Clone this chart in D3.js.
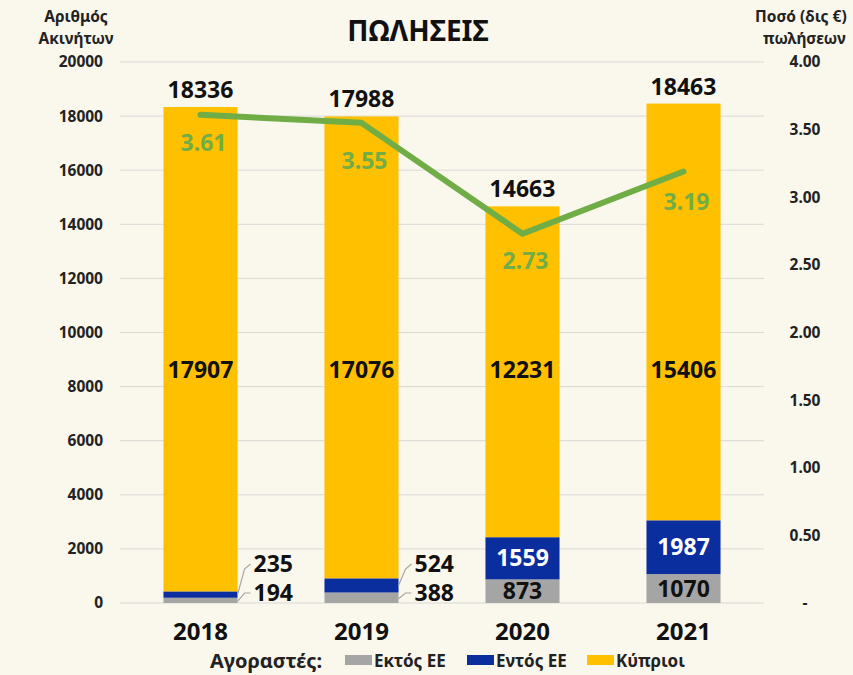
<!DOCTYPE html>
<html lang="el">
<head>
<meta charset="UTF-8">
<title>ΠΩΛΗΣΕΙΣ</title>
<script src="https://d3js.org/d3.v7.min.js"></script>
<style>
    body { margin: 0; background: #faf7ed; }
    svg { display: block; font-family: "Noto Sans", "DejaVu Sans", sans-serif; font-weight: bold; }
</style>
</head>
<body>
<div id="chart"></div>
<script>
    // data
    const years = ["2018", "2019", "2020", "2021"];
    const ektos = [194, 388, 873, 1070];        // Εκτός ΕΕ
    const entos = [235, 524, 1559, 1987];       // Εντός ΕΕ
    const kyprioi = [17907, 17076, 12231, 15406]; // Κύπριοι
    const totals = [18336, 17988, 14663, 18463];
    const amount = [3.61, 3.55, 2.73, 3.19];    // δις €
    const leftTicks = [0, 2000, 4000, 6000, 8000, 10000, 12000, 14000, 16000, 18000, 20000];
    const rightTicks = [0, 0.5, 1, 1.5, 2, 2.5, 3, 3.5, 4];
    const seriesNames = ["Εκτός ΕΕ", "Εντός ΕΕ", "Κύπριοι"];
    const seriesColors = ["#a5a5a5", "#0b2e9e", "#ffc000"];

    const width = 853, height = 675;
    const svg = d3.select("#chart").append("svg")
        .attr("width", width)
        .attr("height", height);

    svg.append("rect").attr("width", width).attr("height", height).attr("fill", "#faf7ed");

    const x = d3.scaleBand().domain(years).range([120, 764]).paddingInner(0.54).paddingOuter(0.27);
    const y = d3.scaleLinear().domain([0, 20000]).range([603, 62]);
    const y2 = d3.scaleLinear().domain([0, 4]).range([603, 62]);

    // gridlines
    svg.append("g")
        .selectAll("line")
        .data(leftTicks)
        .enter().append("line")
        .attr("x1", 120).attr("x2", 764)
        .attr("y1", d => y(d)).attr("y2", d => y(d))
        .attr("stroke", "#d9d9d6").attr("stroke-width", 1);

    // left axis
    const leftAxis = svg.append("g")
        .attr("transform", "translate(103,0)")
        .call(d3.axisLeft(y).tickValues(leftTicks).tickSize(0).tickPadding(0).tickFormat(d3.format("d")));
    leftAxis.select(".domain").remove();
    leftAxis.selectAll("text").attr("font-size", 15.5).attr("font-family", "Noto Sans").attr("font-weight", "bold").attr("fill", "#222");

    // right axis
    const rightAxis = svg.append("g")
        .attr("transform", "translate(805,0)")
        .call(d3.axisRight(y2).tickValues(rightTicks).tickSize(0).tickPadding(0)
            .tickFormat(d => d === 0 ? "-" : d3.format(".2f")(d)));
    rightAxis.select(".domain").remove();
    rightAxis.selectAll("text").attr("text-anchor", "middle").attr("font-size", 15.5)
        .attr("font-family", "Noto Sans").attr("font-weight", "bold").attr("fill", "#222");

    // axis titles
    const titleL = svg.append("text").attr("text-anchor", "middle").attr("font-size", 15.5).attr("fill", "#222");
    titleL.append("tspan").attr("x", 76).attr("y", 22).text("Αριθμός");
    titleL.append("tspan").attr("x", 76).attr("y", 44).text("Ακινήτων");
    const titleR = svg.append("text").attr("font-size", 15.5).attr("fill", "#222");
    titleR.append("tspan").attr("x", 755).attr("y", 22).text("Ποσό (δις €)");
    titleR.append("tspan").attr("x", 763).attr("y", 44).text("πωλήσεων");

    svg.append("text").attr("x", 418).attr("y", 41).attr("text-anchor", "middle")
        .attr("font-size", 28).attr("fill", "#111").text("ΠΩΛΗΣΕΙΣ");

    // stacked bars
    const rows = years.map((yr, i) => ({ year: yr, ektos: ektos[i], entos: entos[i], kyprioi: kyprioi[i] }));
    const stack = d3.stack().keys(["ektos", "entos", "kyprioi"])(rows);

    const layers = svg.append("g")
        .selectAll("g")
        .data(stack)
        .enter().append("g")
        .attr("fill", (d, i) => seriesColors[i]);

    layers.selectAll("rect")
        .data(d => d)
        .enter().append("rect")
        .attr("x", d => x(d.data.year))
        .attr("width", x.bandwidth())
        .attr("y", d => y(d[1]))
        .attr("height", d => y(d[0]) - y(d[1]));

    const cx = yr => x(yr) + x.bandwidth() / 2;

    // totals
    svg.append("g")
        .selectAll("text")
        .data(totals)
        .enter().append("text")
        .attr("x", (d, i) => cx(years[i]))
        .attr("y", d => y(d) - 9)
        .attr("text-anchor", "middle")
        .attr("font-size", 23).attr("fill", "#111")
        .text(d => d);

    // Κύπριοι labels
    svg.append("g")
        .selectAll("text")
        .data(kyprioi)
        .enter().append("text")
        .attr("x", (d, i) => cx(years[i]))
        .attr("y", y(8600) + 8)
        .attr("text-anchor", "middle")
        .attr("font-size", 23).attr("fill", "#111")
        .text(d => d);

    // small segment labels: inside for 2020/2021, outside with leaders for 2018/2019
    const smallG = svg.append("g").attr("font-size", 23);
    years.forEach((yr, i) => {
        const s0 = stack[0][i], s1 = stack[1][i];
        if (i >= 2) {
            smallG.append("text").attr("x", cx(yr)).attr("y", (y(s0[0]) + y(s0[1])) / 2 + 8)
                .attr("text-anchor", "middle").attr("fill", "#111").text(ektos[i]);
            smallG.append("text").attr("x", cx(yr)).attr("y", (y(s1[0]) + y(s1[1])) / 2 + 8)
                .attr("text-anchor", "middle").attr("fill", "#fff").text(entos[i]);
        } else {
            const right = x(yr) + x.bandwidth();
            const ly1 = y(0) - 10, ly2 = y(0) - 39;
            const m0 = (y(s0[0]) + y(s0[1])) / 2, m1 = (y(s1[0]) + y(s1[1])) / 2;
            smallG.append("polyline")
                .attr("points", [[right, m0 + 1], [right + 7, ly1], [right + 13, ly1]].join(" "))
                .attr("fill", "none").attr("stroke", "#a6a6a6").attr("stroke-width", 1.2);
            smallG.append("polyline")
                .attr("points", [[right, m1], [right + 7, ly2 + 5], [right + 13, ly2]].join(" "))
                .attr("fill", "none").attr("stroke", "#a6a6a6").attr("stroke-width", 1.2);
            smallG.append("text").attr("x", right + 16).attr("y", ly1 + 8).attr("fill", "#111").text(ektos[i]);
            smallG.append("text").attr("x", right + 16).attr("y", ly2 + 8).attr("fill", "#111").text(entos[i]);
        }
    });

    // line for amount
    const line = d3.line()
        .x((d, i) => cx(years[i]))
        .y(d => y2(d));

    svg.append("path")
        .datum(amount)
        .attr("d", line)
        .attr("fill", "none")
        .attr("stroke", "#70ad47")
        .attr("stroke-width", 6)
        .attr("stroke-linejoin", "round")
        .attr("stroke-linecap", "round");

    const amountDy = [36, 46, 35, 38];
    svg.append("g")
        .selectAll("text")
        .data(amount)
        .enter().append("text")
        .attr("x", (d, i) => cx(years[i]) + 3)
        .attr("y", (d, i) => y2(d) + amountDy[i])
        .attr("text-anchor", "middle")
        .attr("font-size", 23).attr("fill", "#70ad47")
        .text(d => d3.format(".2f")(d));

    // category labels
    svg.append("g")
        .selectAll("text")
        .data(years)
        .enter().append("text")
        .attr("x", d => cx(d))
        .attr("y", 640)
        .attr("text-anchor", "middle")
        .attr("font-size", 24).attr("fill", "#111")
        .text(d => d);

    // legend
    const legend = svg.append("g").attr("font-size", 17).attr("fill", "#222");
    legend.append("text").attr("x", 210).attr("y", 668).attr("font-size", 20).text("Αγοραστές:");
    const legendX = [345, 467, 587];
    seriesNames.forEach((name, i) => {
        legend.append("rect").attr("x", legendX[i]).attr("y", 655).attr("width", 27).attr("height", 10)
            .attr("fill", seriesColors[i]);
        legend.append("text").attr("x", legendX[i] + 29).attr("y", 667).text(name);
    });
</script>
</body>
</html>
